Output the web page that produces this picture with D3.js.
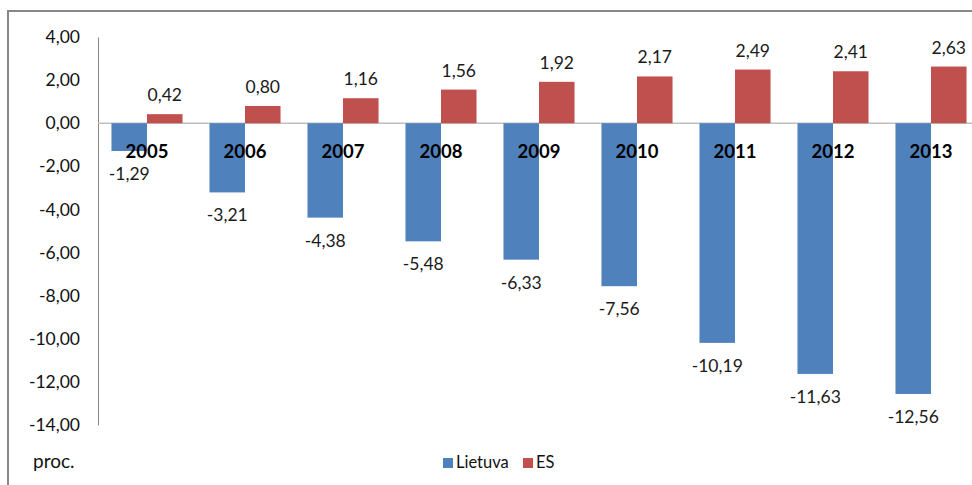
<!DOCTYPE html>
<html><head><meta charset="utf-8">
<script src="https://cdn.jsdelivr.net/npm/d3@7"></script>
<style>
html,body{margin:0;padding:0;background:#fff;}
svg{display:block;font-family:Lato,"Open Sans",sans-serif;}
</style></head>
<body>
<svg id="chart" width="972" height="485"></svg>
<script>
const categories = ["2005","2006","2007","2008","2009","2010","2011","2012","2013"];
const lietuva = [-1.29,-3.21,-4.38,-5.48,-6.33,-7.56,-10.19,-11.63,-12.56];
const es = [0.42,0.80,1.16,1.56,1.92,2.17,2.49,2.41,2.63];
const yTicks = [4,2,0,-2,-4,-6,-8,-10,-12,-14];
const seriesNames = ["Lietuva","ES"];
const colors = ["#4F81BD","#C0504D"];

const svg = d3.select("#chart");
const fmt = v => v.toFixed(2).replace(".", ",");

// outer frame
svg.append("rect").attr("x",8).attr("y",11).attr("width",1000).attr("height",520)
  .attr("fill","none").attr("stroke","#878787").attr("stroke-width",2);

const y = d3.scaleLinear().domain([-14,4]).range([425,37]);
const x = d3.scaleBand().domain(categories).range([98,980]).paddingInner(0.275).paddingOuter(0.1375);
const xs = d3.scaleBand().domain(seriesNames).range([0,x.bandwidth()]);

// y axis
const yAxis = d3.axisLeft(y).tickValues(yTicks).tickSize(0).tickPadding(18).tickFormat(fmt);
const gy = svg.append("g").attr("transform","translate(98,0)").call(yAxis);
gy.select(".domain").attr("stroke","#868686").attr("stroke-width",1);
gy.selectAll("text").attr("font-size",17.5).attr("fill","#111").attr("font-family","Lato,sans-serif");

// zero line
svg.append("line").attr("x1",98).attr("x2",980).attr("y1",y(0)).attr("y2",y(0))
  .attr("stroke","#bfbfbf").attr("stroke-width",1.5);

const data = categories.map((c,i)=>({c, vals:[lietuva[i], es[i]]}));
const groups = svg.append("g").selectAll("g").data(data).join("g")
  .attr("transform", d=>`translate(${x(d.c)},0)`);

groups.selectAll("rect").data(d=>d.vals.map((v,j)=>({v, s:seriesNames[j], j}))).join("rect")
  .attr("x", d=>xs(d.s)).attr("width", xs.bandwidth())
  .attr("y", d=>y(Math.max(0,d.v))).attr("height", d=>Math.abs(y(d.v)-y(0)))
  .attr("fill", d=>colors[d.j]);

// value labels
groups.selectAll("text.val").data(d=>d.vals.map((v,j)=>({v, s:seriesNames[j], j}))).join("text")
  .attr("class","val")
  .attr("x", d=>xs(d.s)+xs.bandwidth()/2)
  .attr("y", d=> d.v>=0 ? y(d.v)-13 : y(d.v)+29)
  .attr("text-anchor","middle").attr("font-size",17.5).attr("fill","#1a1a1a")
  .text(d=>fmt(d.v));

// category labels
groups.append("text").attr("x", x.bandwidth()/2).attr("y",158)
  .attr("text-anchor","middle").attr("font-size",18.5).attr("font-weight","bold").attr("fill","#000")
  .text(d=>d.c);

// unit label
svg.append("text").attr("x",33).attr("y",468).attr("font-size",19).attr("fill","#111").text("proc.");

// legend
const leg = svg.append("g");
const legX = [443, 523];
seriesNames.forEach((n,i)=>{
  leg.append("rect").attr("x",legX[i]).attr("y",458).attr("width",10).attr("height",10).attr("fill",colors[i]);
  leg.append("text").attr("x",legX[i]+13).attr("y",468).attr("font-size",16.5).attr("fill","#111").text(n);
});
</script>
</body></html>
